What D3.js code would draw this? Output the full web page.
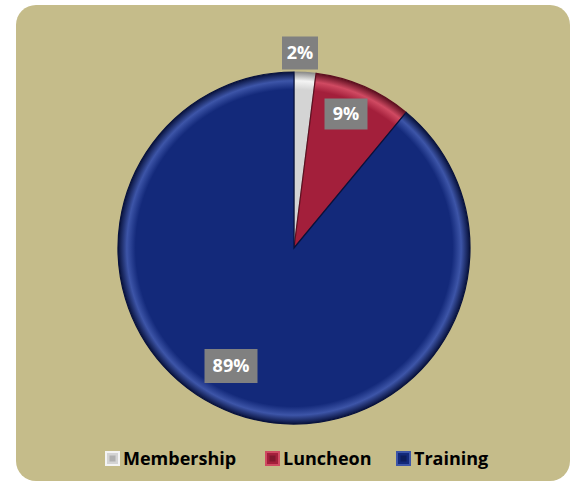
<!DOCTYPE html>
<html>
<head>
<meta charset="utf-8">
<script src="https://cdn.jsdelivr.net/npm/d3@7"></script>
<style>
  body { margin: 0; background: #fff; }
  svg { display: block; }
</style>
</head>
<body>
<svg id="main-svg" width="576" height="486"></svg>
<script>
// chart data
const categories = ["Membership", "Luncheon", "Training"];
const shares = [2, 9, 89];
const labels = ["2%", "9%", "89%"];

const colors = {
  Membership: { base: "#d4d4d4", light: "#f4f4f4", dark: "#8c8c8c" },
  Luncheon: { base: "#a31f3b", light: "#d04a62", dark: "#5e0f20" },
  Training: { base: "#13297a", light: "#3d55a8", dark: "#08123d" }
};

const svg = d3.select("#main-svg");
const defs = svg.append("defs");

// background panel
svg.append("rect")
  .attr("x", 16).attr("y", 5)
  .attr("width", 554).attr("height", 476)
  .attr("rx", 20).attr("ry", 20)
  .attr("fill", "#c5bc8a");

const cx = 294, cy = 248, r = 176;

// gradients giving the slices a bevelled rim (centred on the pie group origin)
categories.forEach(function(c, i) {
  const grad = defs.append("radialGradient")
    .attr("id", "grad" + i)
    .attr("gradientUnits", "userSpaceOnUse")
    .attr("cx", 0).attr("cy", 0).attr("r", r);
  grad.append("stop").attr("offset", "0%").attr("stop-color", colors[c].base);
  grad.append("stop").attr("offset", "90%").attr("stop-color", colors[c].base);
  grad.append("stop").attr("offset", "95%").attr("stop-color", colors[c].light);
  grad.append("stop").attr("offset", "100%").attr("stop-color", colors[c].dark);
});

const pie = d3.pie().sort(null).value(d => d);
const arc = d3.arc().innerRadius(0).outerRadius(r);

const g = svg.append("g").attr("transform", `translate(${cx},${cy})`);

g.selectAll("path.slice")
  .data(pie(shares))
  .enter().append("path")
  .attr("class", "slice")
  .attr("d", arc)
  .attr("fill", (d, i) => "url(#grad" + i + ")")
  .attr("stroke", (d, i) => colors[categories[i]].dark)
  .attr("stroke-width", 1.2);

// data labels (gray boxes)
const labelPos = [
  { x: 300, y: 53, w: 36, h: 33 },
  { x: 346, y: 114, w: 43, h: 31 },
  { x: 231, y: 366, w: 53, h: 34 }
];
labels.forEach(function(t, i) {
  const p = labelPos[i];
  svg.append("rect")
    .attr("x", p.x - p.w / 2).attr("y", p.y - p.h / 2)
    .attr("width", p.w).attr("height", p.h)
    .attr("fill", "#808080");
  svg.append("text")
    .attr("x", p.x).attr("y", p.y)
    .attr("dy", "0.36em")
    .attr("text-anchor", "middle")
    .attr("fill", "#fff")
    .style("font-family", "'Open Sans', 'Liberation Sans', sans-serif")
    .style("font-weight", "bold")
    .style("font-size", "18px")
    .text(t);
});

// legend
const legendX = [106, 266, 397];
categories.forEach(function(c, i) {
  const lg = svg.append("g").attr("transform", `translate(${legendX[i]},452)`);
  lg.append("rect")
    .attr("width", 13).attr("height", 13)
    .attr("fill", colors[c].base)
    .attr("stroke", colors[c].light)
    .attr("stroke-width", 2);
  lg.append("rect")
    .attr("x", 3.5).attr("y", 3.5)
    .attr("width", 6).attr("height", 6)
    .attr("fill", colors[c].dark)
    .attr("opacity", 0.5);
  lg.append("text")
    .attr("x", 17).attr("y", 7)
    .attr("dy", "0.36em")
    .attr("fill", "#000")
    .style("font-family", "'Open Sans', 'Liberation Sans', sans-serif")
    .style("font-weight", "bold")
    .style("font-size", "18px")
    .text(c);
});
</script>
</body>
</html>
